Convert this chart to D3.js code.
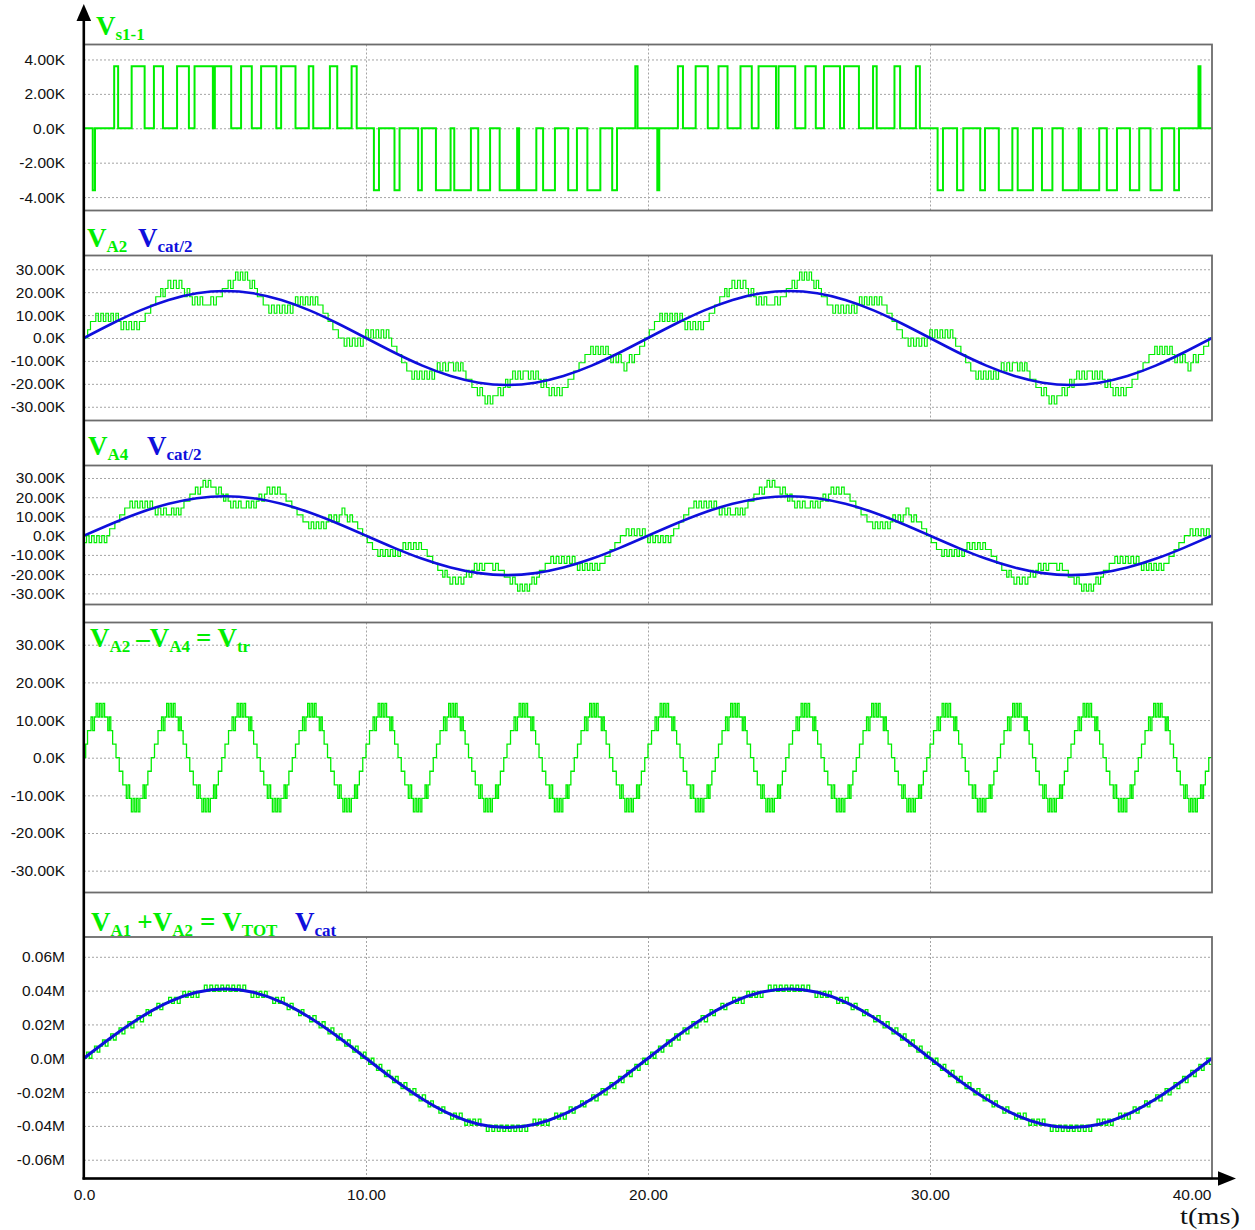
<!DOCTYPE html>
<html><head><meta charset="utf-8">
<script src="https://cdn.jsdelivr.net/npm/d3@7"></script>
<style>body{margin:0;background:#fff;}svg{display:block;}</style>
</head><body>
<svg id="chart" width="1255" height="1230"></svg>
<script>
// ================= DATA =================
const xTickValues = [0, 10, 20, 30, 40];
const xTickLabels = ["0.0", "10.00", "20.00", "30.00", "40.00"];
const vsTickValues = [4, 2, 0, -2, -4];
const vsTickLabels = ["4.00K", "2.00K", "0.0K", "-2.00K", "-4.00K"];
const kTickValues = [30, 20, 10, 0, -10, -20, -30];
const kTickLabels = ["30.00K", "20.00K", "10.00K", "0.0K", "-10.00K", "-20.00K", "-30.00K"];
const mTickValues = [0.06, 0.04, 0.02, 0, -0.02, -0.04, -0.06];
const mTickLabels = ["0.06M", "0.04M", "0.02M", "0.0M", "-0.02M", "-0.04M", "-0.06M"];

// Vs1-1 (K): step function, value holds from each time until the next
const vsTime = [0,0.31,0.39,
 1.07,1.21,1.69,2.15,2.48,2.8,3.3,3.72,3.92,4.57,4.64,5.22,5.57,5.95,6.28,6.82,6.99,7.5,7.97,8.13,8.72,8.98,9.49,9.67,
 10.28,10.46,11.01,11.19,11.85,11.98,12.48,13,13.13,13.72,13.98,14.4,14.74,15.36,15.43,16.04,16.28,16.7,17.17,17.48,17.85,18.31,18.73,18.9,
 19.55,19.63,20.33,20.4,
 21.06,21.24,21.69,22.12,22.5,22.82,23.28,23.68,23.92,24.54,24.63,25.22,25.58,25.95,26.24,26.81,26.95,27.48,27.98,28.11,28.74,28.94,29.5,29.64,
 30.27,30.46,30.96,31.18,31.78,31.95,32.44,32.92,33.11,33.65,33.97,34.34,34.71,35.27,35.35,36,36.27,36.63,37.09,37.42,37.82,38.22,38.66,38.83,
 39.52,39.59,40];
const vsValue = [0,-3.6,0,
 3.6,0,3.6,0,3.6,0,3.6,0,3.6,0,3.6,0,3.6,0,3.6,0,3.6,0,3.6,0,3.6,0,3.6,0,
 -3.6,0,-3.6,0,-3.6,0,-3.6,0,-3.6,0,-3.6,0,-3.6,0,-3.6,0,-3.6,0,-3.6,0,-3.6,0,-3.6,0,
 3.6,0,-3.6,0,
 3.6,0,3.6,0,3.6,0,3.6,0,3.6,0,3.6,0,3.6,0,3.6,0,3.6,0,3.6,0,3.6,0,3.6,0,
 -3.6,0,-3.6,0,-3.6,0,-3.6,0,-3.6,0,-3.6,0,-3.6,0,-3.6,0,-3.6,0,-3.6,0,-3.6,0,-3.6,0,
 3.6,0,0];

// one cell voltage step of the multilevel staircases
const cellStepK = 3.6;
const cellStepM = 0.0036;

// VA2: switching band starts (ms) and lower level index of each band (band spans level..level+1)
const va2Time = [0,0.13,0.33,1.22,2.06,2.28,2.45,2.64,2.88,3.47,3.75,4.3,4.4,4.79,5.02,5.29,5.8,6.05,6.25,6.46,7.41,8.38,8.57,8.74,8.91,9.13,9.9,10.81,11.01,11.18,11.35,11.54,12.43,12.92,13.02,13.44,13.65,13.86,14.13,14.59,14.87,15.11,15.57,15.67,16.11,16.4,17.05,17.28,17.46,17.65,17.88,18.59,19.05,19.25,19.61,19.8,19.96,
 20.13,20.33,21.22,22.06,22.28,22.45,22.64,22.88,23.47,23.75,24.3,24.4,24.79,25.02,25.29,25.8,26.05,26.25,26.46,27.41,28.38,28.57,28.74,28.91,29.13,29.9,30.81,31.01,31.18,31.35,31.54,32.43,32.92,33.02,33.44,33.65,33.86,34.13,34.59,34.87,35.11,35.57,35.67,36.11,36.4,37.05,37.28,37.46,37.65,37.88,38.59,39.05,39.25,39.61,39.8,39.96];
const va2Level = [0,1,2,1,2,3,4,5,6,5,4,3,4,5,6,7,6,5,4,3,4,3,2,1,0,-1,0,-1,-2,-3,-4,-5,-4,-3,-4,-5,-6,-7,-8,-7,-6,-5,-4,-5,-6,-7,-6,-5,-4,-3,-2,-3,-4,-3,-2,-1,0,
 1,2,1,2,3,4,5,6,5,4,3,4,5,6,7,6,5,4,3,4,3,2,1,0,-1,0,-1,-2,-3,-4,-5,-4,-3,-4,-5,-6,-7,-8,-7,-6,-5,-4,-5,-6,-7,-6,-5,-4,-3,-2,-3,-4,-3,-2,-1,0];

// VA4
const va4Time = [0,0.81,1.01,1.18,1.35,1.54,2.43,2.92,3.02,3.44,3.65,3.86,4.13,4.59,4.87,5.11,5.57,5.67,6.11,6.4,7.05,7.28,7.46,7.65,7.88,8.59,9.05,9.25,9.61,9.8,9.96,10.13,10.33,11.22,12.06,12.28,12.45,12.64,12.88,13.47,13.75,14.3,14.4,14.79,15.02,15.29,15.8,16.05,16.25,16.46,17.41,18.38,18.57,18.74,18.91,19.13,19.9,
 20.81,21.01,21.18,21.35,21.54,22.43,22.92,23.02,23.44,23.65,23.86,24.13,24.59,24.87,25.11,25.57,25.67,26.11,26.4,27.05,27.28,27.46,27.65,27.88,28.59,29.05,29.25,29.61,29.8,29.96,30.13,30.33,31.22,32.06,32.28,32.45,32.64,32.88,33.47,33.75,34.3,34.4,34.79,35.02,35.29,35.8,36.05,36.25,36.46,37.41,38.38,38.57,38.74,38.91,39.13,39.9];
const va4Level = [-1,0,1,2,3,4,3,2,3,4,5,6,7,6,5,4,3,4,5,6,5,4,3,2,1,2,3,2,1,0,-1,-2,-3,-2,-3,-4,-5,-6,-7,-6,-5,-4,-5,-6,-7,-8,-7,-6,-5,-4,-5,-4,-3,-2,-1,0,-1,
 0,1,2,3,4,3,2,3,4,5,6,7,6,5,4,3,4,5,6,5,4,3,2,1,2,3,2,1,0,-1,-2,-3,-2,-3,-4,-5,-6,-7,-6,-5,-4,-5,-6,-7,-8,-7,-6,-5,-4,-5,-4,-3,-2,-1,0,-1];

// Vtr = VA2 - VA4
const vtrTime = [0,
 0.06,0.19,0.37,0.79,0.95,1.08,1.19,1.31,1.44,1.62,2.04,2.2,2.33,2.44,
 2.56,2.69,2.87,3.29,3.45,3.58,3.69,3.81,3.94,4.12,4.54,4.7,4.83,4.94,
 5.06,5.19,5.37,5.79,5.95,6.08,6.19,6.31,6.44,6.62,7.04,7.2,7.33,7.44,
 7.56,7.69,7.87,8.29,8.45,8.58,8.69,8.81,8.94,9.12,9.54,9.7,9.83,9.94,
 10.06,10.19,10.37,10.79,10.95,11.08,11.19,11.31,11.44,11.62,12.04,12.2,12.33,12.44,
 12.56,12.69,12.87,13.29,13.45,13.58,13.69,13.81,13.94,14.12,14.54,14.7,14.83,14.94,
 15.06,15.19,15.37,15.79,15.95,16.08,16.19,16.31,16.44,16.62,17.04,17.2,17.33,17.44,
 17.56,17.69,17.87,18.29,18.45,18.58,18.69,18.81,18.94,19.12,19.54,19.7,19.83,19.94,
 20.06,20.19,20.37,20.79,20.95,21.08,21.19,21.31,21.44,21.62,22.04,22.2,22.33,22.44,
 22.56,22.69,22.87,23.29,23.45,23.58,23.69,23.81,23.94,24.12,24.54,24.7,24.83,24.94,
 25.06,25.19,25.37,25.79,25.95,26.08,26.19,26.31,26.44,26.62,27.04,27.2,27.33,27.44,
 27.56,27.69,27.87,28.29,28.45,28.58,28.69,28.81,28.94,29.12,29.54,29.7,29.83,29.94,
 30.06,30.19,30.37,30.79,30.95,31.08,31.19,31.31,31.44,31.62,32.04,32.2,32.33,32.44,
 32.56,32.69,32.87,33.29,33.45,33.58,33.69,33.81,33.94,34.12,34.54,34.7,34.83,34.94,
 35.06,35.19,35.37,35.79,35.95,36.08,36.19,36.31,36.44,36.62,37.04,37.2,37.33,37.44,
 37.56,37.69,37.87,38.29,38.45,38.58,38.69,38.81,38.94,39.12,39.54,39.7,39.83,39.94];
const vtrLevel = [0,
 1,2,3,2,1,0,-1,-2,-3,-4,-3,-2,-1,0,
 1,2,3,2,1,0,-1,-2,-3,-4,-3,-2,-1,0,
 1,2,3,2,1,0,-1,-2,-3,-4,-3,-2,-1,0,
 1,2,3,2,1,0,-1,-2,-3,-4,-3,-2,-1,0,
 1,2,3,2,1,0,-1,-2,-3,-4,-3,-2,-1,0,
 1,2,3,2,1,0,-1,-2,-3,-4,-3,-2,-1,0,
 1,2,3,2,1,0,-1,-2,-3,-4,-3,-2,-1,0,
 1,2,3,2,1,0,-1,-2,-3,-4,-3,-2,-1,0,
 1,2,3,2,1,0,-1,-2,-3,-4,-3,-2,-1,0,
 1,2,3,2,1,0,-1,-2,-3,-4,-3,-2,-1,0,
 1,2,3,2,1,0,-1,-2,-3,-4,-3,-2,-1,0,
 1,2,3,2,1,0,-1,-2,-3,-4,-3,-2,-1,0,
 1,2,3,2,1,0,-1,-2,-3,-4,-3,-2,-1,0,
 1,2,3,2,1,0,-1,-2,-3,-4,-3,-2,-1,0,
 1,2,3,2,1,0,-1,-2,-3,-4,-3,-2,-1,0,
 1,2,3,2,1,0,-1,-2,-3,-4,-3,-2,-1,0];

// VTOT = VA1 + VA2
const vtotTime = [0,0.28,0.56,0.85,1.14,1.45,1.77,2.11,2.48,2.9,3.41,4.17,5.83,6.59,7.1,7.52,7.89,8.23,8.55,8.86,9.15,9.44,9.72,
 10,10.28,10.56,10.85,11.14,11.45,11.77,12.11,12.48,12.9,13.41,14.17,15.83,16.59,17.1,17.52,17.89,18.23,18.55,18.86,19.15,19.44,19.72,
 20,20.28,20.56,20.85,21.14,21.45,21.77,22.11,22.48,22.9,23.41,24.17,25.83,26.59,27.1,27.52,27.89,28.23,28.55,28.86,29.15,29.44,29.72,
 30,30.28,30.56,30.85,31.14,31.45,31.77,32.11,32.48,32.9,33.41,34.17,35.83,36.59,37.1,37.52,37.89,38.23,38.55,38.86,39.15,39.44,39.72];
const vtotLevel = [0,1,2,3,4,5,6,7,8,9,10,11,10,9,8,7,6,5,4,3,2,1,0,
 -1,-2,-3,-4,-5,-6,-7,-8,-9,-10,-11,-12,-11,-10,-9,-8,-7,-6,-5,-4,-3,-2,-1,
 0,1,2,3,4,5,6,7,8,9,10,11,10,9,8,7,6,5,4,3,2,1,0,
 -1,-2,-3,-4,-5,-6,-7,-8,-9,-10,-11,-12,-11,-10,-9,-8,-7,-6,-5,-4,-3,-2,-1];

// smooth references, read every 1 ms
const sineTime = [0,1,2,3,4,5,6,7,8,9,10,11,12,13,14,15,16,17,18,19,20,21,22,23,24,25,26,27,28,29,30,31,32,33,34,35,36,37,38,39,40];
const vcatHalfK = [0,6.33,12.05,16.58,19.5,20.5,19.5,16.58,12.05,6.33,0,-6.33,-12.05,-16.58,-19.5,-20.5,-19.5,-16.58,-12.05,-6.33,
 0,6.33,12.05,16.58,19.5,20.5,19.5,16.58,12.05,6.33,0,-6.33,-12.05,-16.58,-19.5,-20.5,-19.5,-16.58,-12.05,-6.33,0];
const vcatM = [0,0.0127,0.0241,0.0332,0.039,0.041,0.039,0.0332,0.0241,0.0127,0,-0.0127,-0.0241,-0.0332,-0.039,-0.041,-0.039,-0.0332,-0.0241,-0.0127,
 0,0.0127,0.0241,0.0332,0.039,0.041,0.039,0.0332,0.0241,0.0127,0,-0.0127,-0.0241,-0.0332,-0.039,-0.041,-0.039,-0.0332,-0.0241,-0.0127,0];

// ================= DRAWING =================
const GREEN = "#00ee00", BLUE = "#0f0fdc", GRID = "#a4a4a4", FRAME = "#6c6c6c";
const SANS = "'Liberation Sans', Arial, sans-serif";
const SERIF = "'Liberation Serif', 'Times New Roman', serif";
const svg = d3.select("#chart");
const X0 = 84, X1 = 1212;
const x = d3.scaleLinear().domain([0, 40]).range([X0, X1]);

function squareBand(times, levels, step, y, halfPx) {
  let d = "", cur = null;
  for (let i = 0; i < times.length; i++) {
    const t0 = Math.max(0, times[i]);
    const t1 = Math.min(40, i + 1 < times.length ? times[i + 1] : 40);
    if (t1 <= t0) continue;
    const xa = x(t0), xb = x(t1);
    const yLo = y(levels[i] * step), yHi = y((levels[i] + 1) * step);
    let lev = cur === null ? yLo : (Math.abs(cur - yLo) <= Math.abs(cur - yHi) ? yLo : yHi);
    d += cur === null ? `M${xa.toFixed(2)},${lev.toFixed(2)}` : `V${lev.toFixed(2)}`;
    const n = Math.max(1, Math.round((xb - xa) / halfPx));
    const w = (xb - xa) / n;
    for (let j = 1; j <= n; j++) {
      d += `H${(xa + j * w).toFixed(2)}`;
      if (j < n) { lev = (lev === yLo) ? yHi : yLo; d += `V${lev.toFixed(2)}`; }
    }
    cur = lev;
  }
  return d;
}

const panels = [
  {top: 44.5, bottom: 210.5, dom: [-4.78, 4.87], tv: vsTickValues, tl: vsTickLabels},
  {top: 255.5, bottom: 420.5, dom: [-36, 36], tv: kTickValues, tl: kTickLabels},
  {top: 465.5, bottom: 604.5, dom: [-35.8, 36.5], tv: kTickValues, tl: kTickLabels},
  {top: 622.5, bottom: 892.5, dom: [-35.8, 35.9], tv: kTickValues, tl: kTickLabels},
  {top: 937, bottom: 1178.5, dom: [-0.0711, 0.0717], tv: mTickValues, tl: mTickLabels}
];
const defs = svg.append("defs");

panels.forEach((p, i) => {
  p.y = d3.scaleLinear().domain(p.dom).range([p.bottom, p.top]);
  defs.append("clipPath").attr("id", "clip" + i).append("rect")
    .attr("x", X0).attr("y", p.top).attr("width", X1 - X0).attr("height", p.bottom - p.top);
  const g = svg.append("g");
  p.g = g;
  g.append("rect").attr("x", X0).attr("y", p.top).attr("width", X1 - X0)
    .attr("height", p.bottom - p.top).attr("fill", "#fff");
  const gh = g.append("g").attr("transform", `translate(${X0},0)`)
    .call(d3.axisLeft(p.y).tickValues(p.tv).tickSize(-(X1 - X0)).tickFormat(""));
  gh.select(".domain").remove();
  gh.selectAll("line").attr("stroke", GRID).attr("stroke-width", 1).attr("stroke-dasharray", "2,2");
  const gv = g.append("g").attr("transform", `translate(0,${p.top})`)
    .call(d3.axisBottom(x).tickValues([10, 20, 30]).tickSize(p.bottom - p.top).tickFormat(""));
  gv.select(".domain").remove();
  gv.selectAll("line").attr("stroke", GRID).attr("stroke-width", 1).attr("stroke-dasharray", "2,2");
  const gl = g.append("g").attr("transform", `translate(${X0},0)`)
    .call(d3.axisLeft(p.y).tickValues(p.tv).tickFormat((d, j) => p.tl[j]).tickSize(0).tickPadding(19));
  gl.select(".domain").remove();
  gl.selectAll("text").attr("font-family", SANS).attr("font-size", 15.5).attr("fill", "#111");
  p.plot = g.append("g").attr("clip-path", `url(#clip${i})`);
});

// Panel 1: Vs1-1
{
  const p = panels[0];
  const pts = vsTime.map((t, i) => [t, vsValue[i]]);
  p.plot.append("path").datum(pts)
    .attr("d", d3.line().x(d => x(d[0])).y(d => p.y(d[1])).curve(d3.curveStepAfter))
    .attr("fill", "none").attr("stroke", GREEN).attr("stroke-width", 2);
}
const sineLine = (y, vals) => d3.line().x((d, i) => x(sineTime[i])).y(d => y(d)).curve(d3.curveNatural)(vals);

{
  const p = panels[1];
  p.plot.append("path").attr("d", squareBand(va2Time, va2Level, cellStepK, p.y, 2.6))
    .attr("fill", "none").attr("stroke", GREEN).attr("stroke-width", 1.2);
  p.plot.append("path").attr("d", sineLine(p.y, vcatHalfK))
    .attr("fill", "none").attr("stroke", BLUE).attr("stroke-width", 2.6);
}
{
  const p = panels[2];
  p.plot.append("path").attr("d", squareBand(va4Time, va4Level, cellStepK, p.y, 2.6))
    .attr("fill", "none").attr("stroke", GREEN).attr("stroke-width", 1.2);
  p.plot.append("path").attr("d", sineLine(p.y, vcatHalfK))
    .attr("fill", "none").attr("stroke", BLUE).attr("stroke-width", 2.6);
}
{
  const p = panels[3];
  p.plot.append("path").attr("d", squareBand(vtrTime, vtrLevel, cellStepK, p.y, 1.7))
    .attr("fill", "none").attr("stroke", GREEN).attr("stroke-width", 1.3);
}
{
  const p = panels[4];
  p.plot.append("path").attr("d", squareBand(vtotTime, vtotLevel, cellStepM, p.y, 2.8))
    .attr("fill", "none").attr("stroke", GREEN).attr("stroke-width", 1.3);
  p.plot.append("path").attr("d", sineLine(p.y, vcatM))
    .attr("fill", "none").attr("stroke", BLUE).attr("stroke-width", 3);
}
panels.forEach(p => {
  p.g.append("rect").attr("x", X0).attr("y", p.top).attr("width", X1 - X0)
    .attr("height", p.bottom - p.top).attr("fill", "none")
    .attr("stroke", FRAME).attr("stroke-width", 1.8);
});

// main axes with arrows
svg.append("line").attr("x1", 83.8).attr("x2", 83.8).attr("y1", 18).attr("y2", 1179.5)
  .attr("stroke", "#000").attr("stroke-width", 2.6);
svg.append("path").attr("d", "M83.8,4 L76.5,21 L91.1,21 Z").attr("fill", "#000");
svg.append("line").attr("x1", 82.5).attr("x2", 1220).attr("y1", 1178.5).attr("y2", 1178.5)
  .attr("stroke", "#000").attr("stroke-width", 2.6);
svg.append("path").attr("d", "M1236,1178.5 L1218,1171.3 L1218,1185.7 Z").attr("fill", "#000");

const gxa = svg.append("g").attr("transform", "translate(0,1178.5)")
  .call(d3.axisBottom(x).tickValues(xTickValues).tickFormat((d, i) => xTickLabels[i]).tickSize(0).tickPadding(10));
gxa.select(".domain").remove();
gxa.selectAll("text").attr("font-family", SANS).attr("font-size", 15.5).attr("fill", "#111");
gxa.selectAll("text").filter((d, i) => i === xTickValues.length - 1).attr("text-anchor", "end").attr("x", -1);

svg.append("text").attr("x", 1180).attr("y", 1224.4).attr("font-family", SERIF)
  .attr("font-size", 24).attr("textLength", 60).attr("lengthAdjust", "spacingAndGlyphs")
  .attr("fill", "#111").text("t(ms)");

// series labels
function label(x0, y0, parts) {
  const t = svg.append("text").attr("x", x0).attr("y", y0)
    .attr("font-family", SERIF).attr("font-weight", "bold");
  let sub = false;
  parts.forEach(([s, isSub, col, dx]) => {
    const ts = t.append("tspan").text(s).attr("fill", col).attr("font-size", isSub ? 17 : 27);
    if (isSub && !sub) ts.attr("dy", 4.5);
    if (!isSub && sub) ts.attr("dy", -4.5);
    if (dx) ts.attr("dx", dx);
    sub = isSub;
  });
}
label(96, 35, [["V", false, GREEN], ["s1-1", true, GREEN]]);
label(87, 247, [["V", false, GREEN], ["A2", true, GREEN]]);
label(138, 247, [["V", false, BLUE], ["cat/2", true, BLUE]]);
label(88, 455, [["V", false, GREEN], ["A4", true, GREEN]]);
label(147, 455, [["V", false, BLUE], ["cat/2", true, BLUE]]);
label(90, 647, [["V", false, GREEN], ["A2", true, GREEN], ["\u2013", false, GREEN, 6], ["V", false, GREEN],
  ["A4", true, GREEN], ["=", false, GREEN, 6], ["V", false, GREEN, 6], ["tr", true, GREEN]]);
label(91, 931, [["V", false, GREEN], ["A1", true, GREEN], ["+", false, GREEN, 6], ["V", false, GREEN],
  ["A2", true, GREEN], ["=", false, GREEN, 7], ["V", false, GREEN, 7], ["TOT", true, GREEN]]);
label(295, 931, [["V", false, BLUE], ["cat", true, BLUE]]);
</script>
</body></html>
